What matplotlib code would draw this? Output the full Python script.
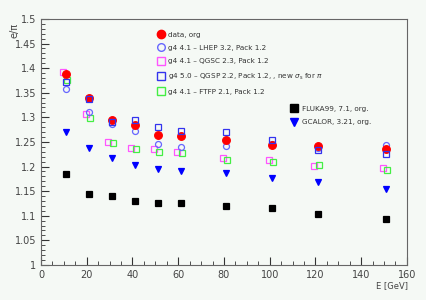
import numpy as np
import matplotlib
matplotlib.use("Agg")
import matplotlib.pyplot as plt
from matplotlib.lines import Line2D
from matplotlib.ticker import MultipleLocator

# beam energies [GeV]
energy = np.array([10, 20, 30, 40, 50, 60, 80, 100, 120, 150])

data_org = [1.387, 1.339, 1.294, 1.284, 1.265, 1.262, 1.253, 1.243, 1.241, 1.236]
lhep = [1.358, 1.310, 1.286, 1.272, 1.245, 1.239, 1.241, 1.246, 1.238, 1.243]
qgsc = [1.392, 1.307, 1.249, 1.237, 1.235, 1.229, 1.218, 1.213, 1.202, 1.197]
qgsp = [1.371, 1.337, 1.291, 1.295, 1.280, 1.273, 1.270, 1.253, 1.233, 1.226]
ftfp = [1.376, 1.299, 1.247, 1.235, 1.229, 1.228, 1.213, 1.209, 1.203, 1.192]
fluka = [1.184, 1.144, 1.141, 1.129, 1.126, 1.126, 1.120, 1.116, 1.104, 1.093]
gcalor = [1.271, 1.237, 1.218, 1.204, 1.194, 1.190, 1.186, 1.177, 1.168, 1.154]

labels1 = ["data, org",
           "g4 4.1 \u2013 LHEP 3.2, Pack 1.2",
           "g4 4.1 \u2013 QGSC 2.3, Pack 1.2",
           "g4 5.0 \u2013 QGSP 2.2, Pack 1.2, , new $\\sigma_{\\rm s}$ for $\\pi$",
           "g4 4.1 \u2013 FTFP 2.1, Pack 1.2"]
labels2 = ["FLUKA99, 7.1, org.", "GCALOR, 3.21, org."]

bg = "#f5f9f5"
fig = plt.figure(figsize=(4.27, 3.0), dpi=100, facecolor=bg)
ax = fig.add_axes([0.096, 0.117, 0.857, 0.820], facecolor=bg)

# series: values, marker, face, edge, size, x shift
series = [
    (fluka, "s", "black", "black", 4.0, 1.0),
    (gcalor, "v", "#0000ff", "#0000ff", 4.0, 1.0),
    (qgsc, "s", "none", "#ff55ff", 4.5, -0.5),
    (ftfp, "s", "none", "#44ee44", 4.5, 1.5),
    (lhep, "o", "none", "#6666ff", 4.3, 1.0),
    (data_org, "o", "#ff0000", "#ff0000", 5.5, 1.0),
    (qgsp, "s", "none", "#3333ee", 4.5, 1.0),
]
for vals, mk, fc, ec, ms, dx in series:
    ax.plot(energy + dx, vals, ls="none", marker=mk, mfc=fc, mec=ec,
            ms=ms, mew=0.9)

ax.set_xlim(0, 160)
ax.set_ylim(1.0, 1.5)
ax.xaxis.set_major_locator(MultipleLocator(20))
ax.xaxis.set_minor_locator(MultipleLocator(5))
ax.yaxis.set_major_locator(MultipleLocator(0.05))
ax.yaxis.set_minor_locator(MultipleLocator(0.01))
ax.yaxis.set_major_formatter(matplotlib.ticker.FuncFormatter(lambda v, p: f"{v:g}"))
ax.tick_params(which="major", direction="in", length=6, width=0.8,
               labelsize=7, colors="#333333", labelcolor="#444444")
ax.tick_params(which="minor", direction="in", length=3, width=0.6, colors="#333333")
for s in ax.spines.values():
    s.set_color("#666666")
    s.set_linewidth(0.8)

fig.text(0.035, 0.925, "e/\u03c0", rotation=90, fontsize=7, color="#444444",
         ha="center", va="top")
fig.text(0.955, 0.04, "E [GeV]", fontsize=6, color="#444444", ha="right")

h1 = [Line2D([], [], ls="none", marker="o", mfc="#ff0000", mec="#ff0000", ms=6),
      Line2D([], [], ls="none", marker="o", mfc="none", mec="#6666ff", ms=5.5),
      Line2D([], [], ls="none", marker="s", mfc="none", mec="#ff55ff", ms=6),
      Line2D([], [], ls="none", marker="s", mfc="none", mec="#3333ee", ms=6),
      Line2D([], [], ls="none", marker="s", mfc="none", mec="#44ee44", ms=6)]
leg1 = ax.legend(h1, labels1, loc="upper left", bbox_to_anchor=(0.3, 0.975),
                 frameon=False, fontsize=5.2, labelspacing=1.0,
                 handletextpad=0.5, handlelength=1.0, labelcolor="#333333")
ax.add_artist(leg1)
h2 = [Line2D([], [], ls="none", marker="s", mfc="black", mec="black", ms=5.5),
      Line2D([], [], ls="none", marker="v", mfc="#0000ff", mec="#0000ff", ms=6)]
ax.legend(h2, labels2, loc="upper left", bbox_to_anchor=(0.665, 0.673),
          frameon=False, fontsize=5.2, labelspacing=1.0,
          handletextpad=0.5, handlelength=1.0, labelcolor="#333333")

fig.savefig("out.png", dpi=100, facecolor=bg)
